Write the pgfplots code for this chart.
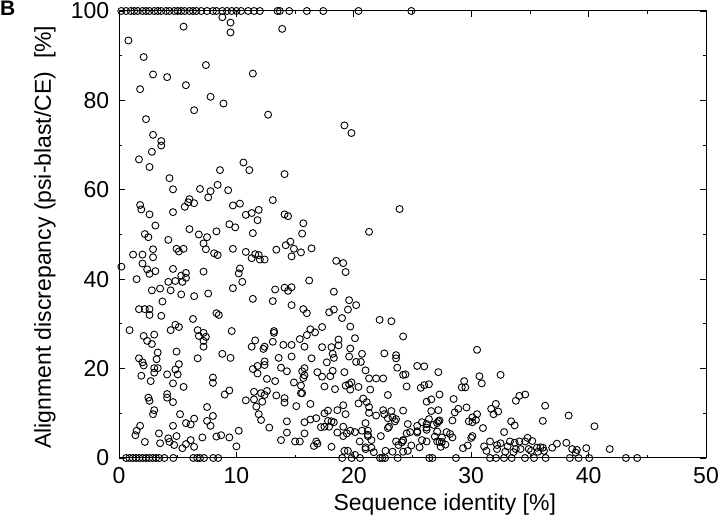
\documentclass[border=0pt]{standalone}
\usepackage{pgfplots}
\pgfplotsset{compat=1.18}
\usepackage{fontspec}
\setmainfont{Liberation Sans}
\begin{document}
\fontsize{23bp}{27bp}\selectfont
\begin{tikzpicture}[x=1bp,y=1bp]
\useasboundingbox (0,0) rectangle (720,525);
\node[anchor=north west, inner sep=0pt, font=\bfseries\fontsize{21bp}{25bp}\selectfont] at (0,524) {B};
\begin{axis}[
  at={(119bp,67bp)}, anchor=south west,
  scale only axis, width=587bp, height=447bp,
  xmin=0, xmax=50, ymin=0, ymax=100,
  xtick={0,10,...,50}, minor xtick={5,15,...,45},
  ytick={0,20,...,100}, minor ytick={10,30,...,90},
  tick align=inside, major tick length=6bp, minor tick length=3bp,
  every tick/.style={black, line width=0.8bp},
  axis line style={black, line width=1bp},
  clip=false,
  /pgf/number format/assume math mode=true,
  tick label style={font=\fontsize{23bp}{27bp}\selectfont},
  xticklabel style={yshift=-2bp},
  yticklabel style={xshift=-2bp},
  xlabel={Sequence identity [\%]},
  ylabel={Alignment discrepancy (psi-blast/CE)\ \ [\%]},
  label style={font=\fontsize{23bp}{27bp}\selectfont},
  xlabel style={at={(axis description cs:0.555,-0.105)}, anchor=center},
  ylabel style={at={(axis description cs:-0.126,0.494)}, anchor=center, rotate=0},
]
\addplot[only marks, mark=o, mark size=3.5bp, mark options={line width=0.9bp, black}] coordinates {
(0.2,100)(0.6,100)(1.0,100)(1.3,100)(1.6,100)(2.0,100)(2.3,100)(2.6,100)(3.0,100)(3.3,100)(3.6,100)(4.0,100)(4.3,100)(4.7,100)(5.0,100)(5.3,100)(5.6,100)(6.0,100)(6.3,100)(6.6,100)(7.0,100)(7.5,100)(8.0,100)(8.3,100)(8.8,100)(9.2,100)(9.6,100)(10.0,100)(10.4,100)(11.0,100)(11.5,100)(12.0,100)(13.5,100)(13.7,100)(14.5,100)(16.0,100)(17.4,100)(20.4,100)(24.9,100)
(0.6,0)(0.88,0)(1.17,0)(1.45,0)(1.73,0)(2.02,0)(2.3,0)(2.58,0)(2.87,0)(3.15,0)(3.43,0)(3.86,0)(4.63,0)(6.33,0)(6.66,0)(6.9,0)(7.24,0)(8.03,0)(8.45,0)(19.01,0)(19.81,0)(20.53,0)(22.23,0)(22.43,0)(22.66,0)(23.74,0)(26.43,0)(26.69,0)(28.7,0)(31.6,0)(32.11,0)(32.79,0)(33.45,0)(34.58,0)(35.35,0)(36.34,0)(38.4,0)(39.15,0)(40.05,0)(43.18,0)(44.14,0)
(8.8,98.6)(9.5,97.4)(9.5,95.2)(5.5,96.5)(0.8,93.4)(2.1,89.7)(7.4,87.9)(11.4,86.0)(2.9,85.8)(4.1,85.2)(5.7,83.4)(1.8,82.5)(7.8,80.8)(8.9,79.3)(6.4,77.8)(2.3,75.8)(2.9,72.3)(3.6,70.9)(3.6,69.9)(2.8,68.5)(1.7,66.8)
(13.9,96.0)(12.7,76.8)(19.2,74.4)(19.8,72.7)
(2.6,65.1)(10.6,66.1)(11.1,64.4)(8.6,64.4)(4.3,62.6)(4.6,60.1)(6.9,60.2)(7.8,59.7)(8.4,61.1)(9.3,59.9)(7.6,58.3)(6.0,57.9)(5.9,57.2)(6.4,57.0)(5.6,56.2)(1.8,56.6)(1.9,55.6)(2.6,54.5)(4.6,55.0)(9.7,56.5)(10.3,56.9)(10.8,54.4)(11.3,54.8)(11.9,55.5)(11.8,53.2)(3.1,52.0)(9.4,52.3)(9.9,51.6)(6.0,51.2)(8.3,50.7)(2.2,50.1)(2.5,49.4)(6.8,50.0)(7.5,49.4)(4.2,48.8)(11.4,50.3)(7.2,48.0)(7.4,46.7)(4.9,46.8)(5.1,46.2)(5.5,46.8)(2.9,46.7)(9.7,46.8)(8.1,45.8)(8.4,45.4)(10.8,46.1)(11.6,45.6)(11.9,45.4)(11.3,44.7)(1.2,45.5)(2.0,45.5)(2.9,44.9)(2.0,43.5)(0.2,42.8)(2.4,42.2)(2.6,41.2)(3.1,41.8)(4.6,42.3)(7.2,41.7)(10.3,42.4)(10.2,41.3)(5.3,40.8)(5.7,41.4)(5.7,40.3)(1.5,40.0)(4.2,39.4)(4.8,39.6)(5.4,39.4)(10.5,39.4)(9.7,38.0)(2.8,37.5)(3.5,37.9)(4.4,37.5)(5.3,36.6)(6.4,36.2)(7.6,36.8)(11.4,35.6)(3.7,35.0)
(14.1,63.5)(13.1,57.7)(14.1,54.5)(14.4,54.1)(15.7,52.5)(15.6,50.2)(23.9,55.7)(21.3,50.6)(14.6,48.4)(14.2,47.6)(14.9,46.8)(13.4,46.6)(15.5,46.0)(16.4,46.9)(14.7,45.1)(12.0,44.4)(12.4,44.4)(18.5,44.1)(19.1,43.6)(19.3,41.6)(16.2,39.7)(13.3,37.7)(14.1,38.1)(14.4,37.4)(14.7,38.2)(18.3,37.2)(13.1,35.1)(14.7,34.2)(15.7,33.3)(19.6,35.3)(20.2,34.2)
(1.7,33.3)(2.2,33.3)(2.6,33.3)(2.6,32.0)(3.6,31.8)(6.3,31.1)(8.3,32.4)(8.5,32.0)(0.9,28.6)(4.4,28.6)(4.8,29.8)(5.1,29.3)(6.7,28.6)(7.2,28.0)(6.8,27.3)(7.4,27.1)(7.2,26.2)(7.2,24.9)(9.6,28.4)(2.1,27.3)(2.4,26.2)(2.8,25.5)(3.0,27.6)(11.6,26.3)(11.3,24.9)(3.3,23.6)(3.2,22.1)(4.9,23.8)(8.8,23.3)(9.5,22.4)(1.7,22.3)(2.0,21.4)(2.1,20.7)(6.7,22.3)(5.1,21.0)(4.8,19.8)(5.0,18.7)(4.1,18.7)(3.0,20.1)(3.3,20.1)(3.0,19.1)(1.9,18.4)(2.7,17.2)(11.8,20.6)(11.4,19.9)(11.8,18.9)(4.6,16.7)(5.5,15.9)(8.0,18.0)(8.0,16.8)(2.5,13.5)(2.6,12.8)(4.1,14.3)(4.1,13.5)(4.6,12.5)(9.0,14.2)(9.4,15.1)(10.8,12.9)(11.5,14.8)(11.5,13.1)(11.7,11.5)(11.9,9.8)(7.5,11.4)(3.0,10.7)(2.9,9.8)(5.2,9.8)(8.0,9.4)(7.5,8.3)(7.8,7.2)(6.4,8.8)(5.7,7.8)(6.1,7.5)(4.6,7.2)(1.8,7.2)(1.5,6.1)(1.4,5.1)(3.4,5.5)(3.5,3.3)(4.2,4.4)(4.3,3.6)(4.9,4.9)(4.7,2.9)(2.2,3.6)(6.1,4.0)(5.7,3.1)(5.4,2.2)(6.4,2.5)(7.1,4.6)(8.3,4.8)(8.7,5.1)(9.4,4.6)(10.2,6.1)(10.0,2.6)
(16.0,32.4)(17.9,32.6)(18.3,33.2)(19.5,33.2)(19.0,31.3)(22.2,30.9)(23.2,30.6)(19.7,29.4)(13.2,28.4)(13.2,28.0)(16.3,28.8)(16.0,27.5)(16.7,28.1)(17.3,29.3)(15.4,26.6)(20.1,26.8)(24.2,27.2)(12.4,24.9)(12.3,24.4)(13.1,26.0)(14.0,25.3)(14.7,25.3)(15.8,24.9)(17.3,24.8)(18.1,24.8)(18.7,26.5)(18.7,25.2)(19.7,24.5)(18.2,23.3)(18.3,22.4)(20.7,23.3)(19.6,22.7)(20.2,21.5)(20.6,21.5)(22.6,23.4)(23.6,23.0)(23.6,22.3)(12.4,20.8)(12.4,21.6)(13.6,22.4)(14.7,22.7)(16.4,22.3)(13.8,20.2)(14.3,19.4)(15.8,20.1)(15.6,19.4)(15.8,18.5)(15.7,17.9)(17.7,21.4)(18.2,19.5)(18.0,18.3)(16.9,19.2)(17.3,18.2)(19.2,19.2)(21.0,19.6)(21.3,17.8)(21.9,17.8)(22.5,17.8)(23.7,20.2)(24.2,18.6)(12.6,17.7)(13.3,17.2)(14.9,16.9)(15.5,16.2)(15.5,14.5)(15.6,14.5)(17.5,16.0)(18.4,15.4)(19.3,16.2)(19.6,16.5)(19.8,16.9)(19.7,15.3)(20.4,15.9)(21.4,15.3)(12.1,14.5)(12.6,15.0)(12.4,14.1)(12.2,12.6)(13.4,14.0)(14.1,13.4)(14.1,12.4)(12.1,8.5)(22.9,14.1)(15.1,11.6)(16.3,12.1)(19.1,11.8)(19.3,9.8)(18.6,10.7)(20.8,13.3)(21.1,12.5)(21.3,11.4)(21.3,10.1)(20.4,12.2)(21.9,9.5)(22.5,10.7)(23.2,10.5)(22.6,9.8)(22.9,8.9)(23.3,9.1)(23.6,8.7)(23.5,8.2)(24.2,10.6)(14.3,8.2)(15.8,8.0)(16.3,8.6)(16.8,8.9)(17.5,10.0)(17.8,10.6)(17.8,8.3)(18.3,8.0)(18.1,8.2)(17.2,6.9)(17.5,7.0)(17.9,7.0)(19.1,7.0)(19.7,6.1)(20.1,5.8)(19.4,5.5)(19.1,4.9)(18.6,5.7)(20.7,6.1)(21.0,7.8)(21.2,6.1)(21.2,5.2)(21.5,4.0)(21.2,4.9)(23.0,7.0)(22.9,6.7)(22.3,4.9)(23.6,3.7)(24.2,3.9)(15.8,5.5)(14.3,5.7)(12.8,6.8)(13.8,4.0)(15.0,3.7)(15.4,3.7)(16.6,2.7)(16.9,3.2)(16.8,3.7)(18.1,2.5)(19.2,1.6)(19.5,1.6)(20.1,0.7)(20.5,3.7)(21.0,2.0)(21.0,2.4)(21.5,2.3)(21.7,1.3)(22.7,1.6)(23.3,1.4)(23.8,2.9)(24.1,3.5)
(30.5,24.2)(24.4,18.7)(24.5,16.0)(25.4,20.6)(26.0,20.5)(27.2,19.2)(25.7,15.7)(26.0,16.3)(26.4,16.5)(26.2,12.6)(26.6,13.1)(27.3,14.2)(26.6,10.5)(27.2,10.7)(26.4,8.7)(28.5,13.2)(29.2,15.8)(29.4,17.2)(29.5,15.8)(30.7,18.3)(30.9,16.7)(32.5,18.6)(28.6,10.2)(28.9,11.0)(29.6,11.3)(28.4,8.4)(30.1,9.1)(30.5,9.8)(30.1,8.0)(29.8,8.2)(30.4,8.5)(31.0,6.7)(27.2,8.2)(27.1,7.8)(27.3,8.4)(24.6,7.6)(25.4,7.2)(25.8,8.0)(26.2,7.6)(26.2,6.3)(26.2,6.8)(26.8,7.4)(27.1,5.9)(24.5,5.5)(24.8,5.8)(25.4,6.0)(25.4,5.7)(24.2,4.0)(25.8,4.0)(26.2,3.7)(26.9,4.8)(27.1,3.7)(27.5,4.6)(27.9,5.8)(28.2,5.4)(28.4,4.6)(27.3,3.6)(27.5,3.6)(27.8,3.0)(27.4,2.5)(24.2,1.4)(24.6,1.6)(24.9,2.8)(25.6,2.4)(29.3,2.2)(29.7,2.8)(30.0,4.5)(30.1,4.9)(31.7,11.0)(31.9,9.8)(32.1,12.1)(32.3,10.4)(33.4,8.2)(33.7,7.3)(33.8,12.8)(34.1,13.9)(34.6,14.2)(32.8,5.8)(36.3,11.7)(36.1,8.3)(31.1,2.6)(31.3,1.6)(31.6,3.7)(32.2,2.9)(32.2,2.0)(32.5,3.3)(32.9,1.4)(33.1,2.6)(33.3,3.7)(33.6,1.3)(33.8,2.0)(33.7,3.4)(34.1,3.7)(34.2,2.0)(34.6,3.7)(34.8,4.5)(35.2,3.8)(34.9,2.0)(35.1,1.6)(35.6,2.3)(35.9,2.4)(36.1,2.3)(36.2,1.6)(35.7,1.4)(36.9,2.3)
(38.3,9.5)(40.5,7.1)(37.3,3.2)(38.1,3.4)(38.6,2.0)(39.0,1.8)(38.9,1.2)(39.8,2.2)(41.8,2.0)
};
\end{axis}
\end{tikzpicture}
\end{document}
